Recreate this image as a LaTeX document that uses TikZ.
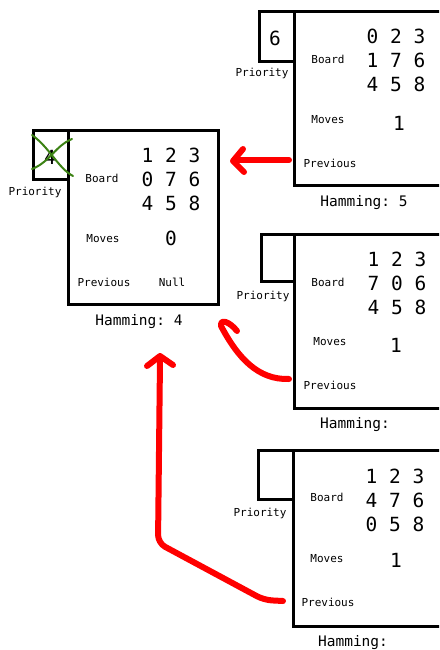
\documentclass[tikz,border=0pt]{standalone}
\usepackage{fontspec}
\setmonofont{DejaVu Sans Mono}
\definecolor{xgreen}{RGB}{60,130,20}
\begin{document}
\begin{tikzpicture}[x=1pt,y=-1pt,
  box/.style={draw,line width=3pt,inner sep=0pt,anchor=north west},
  lbl/.style={font=\ttfamily\fontsize{11}{13}\selectfont,inner sep=0pt},
  big/.style={font=\ttfamily\fontsize{19.5}{24}\selectfont,inner sep=0pt,align=center},
  ham/.style={font=\ttfamily\fontsize{14.5}{17}\selectfont,inner sep=0pt},
  redarrow/.style={draw=red,line width=6pt,line cap=round,line join=round},
  cross/.style={draw=xgreen,line width=2pt,line cap=round}]
\useasboundingbox (0,0) rectangle (439,650);
\clip (0,0) rectangle (439,650);

% ---------- state 0 (left) ----------
\node[box,minimum width=150pt,minimum height=174pt] (s0) at (67,129) {};
\node[box,minimum width=35pt,minimum height=49pt] (p0) at (32,129) {};
\node[big] (p0v) at (50,157) {4};
\node[lbl] (p0l) at (35,192) {Priority};
\node[lbl] (b0l) at (102,178) {Board};
\node[big] (b0) at (171,179) {1 2 3\\0 7 6\\4 5 8};
\node[lbl] (m0l) at (103,239) {Moves};
\node[big] (m0) at (171,238) {0};
\node[lbl] (r0l) at (104,282) {Previous};
\node[lbl] (r0) at (172,282) {Null};
\node[ham] (h0) at (139,322) {Hamming: 4};
\draw[cross] (32,135) .. controls (50,148) and (58,168) .. (73,176);
\draw[cross] (32,169) .. controls (50,162) and (55,146) .. (72,139);

% ---------- state 1 (top right) ----------
\node[box,minimum width=160pt,minimum height=174pt] (s1) at (293,10) {};
\node[box,minimum width=35pt,minimum height=50pt] (p1) at (258,10) {};
\node[big] (p1v) at (275,38) {6};
\node[lbl] (p1l) at (262,73) {Priority};
\node[lbl] (b1l) at (328,59) {Board};
\node[big] (b1) at (396,60) {0 2 3\\1 7 6\\4 5 8};
\node[lbl] (m1l) at (328,120) {Moves};
\node[big] (m1) at (399,123) {1};
\node[lbl] (r1l) at (330,163) {Previous};
\node[ham] (h1) at (364,203) {Hamming: 5};

% ---------- state 2 (middle right) ----------
\node[box,minimum width=160pt,minimum height=174pt] (s2) at (293,233) {};
\node[box,minimum width=33pt,minimum height=47pt] (p2) at (260,233) {};
\node[lbl] (p2l) at (263,296) {Priority};
\node[lbl] (b2l) at (328,282) {Board};
\node[big] (b2) at (397,283) {1 2 3\\7 0 6\\4 5 8};
\node[lbl] (m2l) at (330,342) {Moves};
\node[big] (m2) at (396,345) {1};
\node[lbl] (r2l) at (330,385) {Previous};
\node[ham] (h2) at (355,425) {Hamming:};

% ---------- state 3 (bottom right) ----------
\node[box,minimum width=160pt,minimum height=176pt] (s3) at (292,449) {};
\node[box,minimum width=35pt,minimum height=49pt] (p3) at (257,449) {};
\node[lbl] (p3l) at (260,513) {Priority};
\node[lbl] (b3l) at (327,497) {Board};
\node[big] (b3) at (395,500) {1 2 3\\4 7 6\\0 5 8};
\node[lbl] (m3l) at (327,559) {Moves};
\node[big] (m3) at (396,560) {1};
\node[lbl] (r3l) at (328,602) {Previous};
\node[ham] (h3) at (353,643) {Hamming:};

% ---------- red arrows ----------
\coordinate (a1s) at (289,160);
\coordinate (a1e) at (235,160);
\draw[redarrow] (a1s) -- (a1e);
\draw[redarrow] (243,149) -- (233,161) -- (244,172);

\coordinate (a2s) at (289,379);
\coordinate (a2e) at (221,326);
\draw[redarrow] (a2s) .. controls (258,380) and (238,358) .. (a2e)
  .. controls (220,318) and (230,322) .. (237,331);

\coordinate (a3s) at (283,601);
\coordinate (a3e) at (160,360);
\draw[redarrow,rounded corners=8pt] (a3s) -- (264,600) -- (158,543) -- (a3e);
\draw[redarrow] (147,366) -- (160,356) -- (173,365);
\end{tikzpicture}
\end{document}
